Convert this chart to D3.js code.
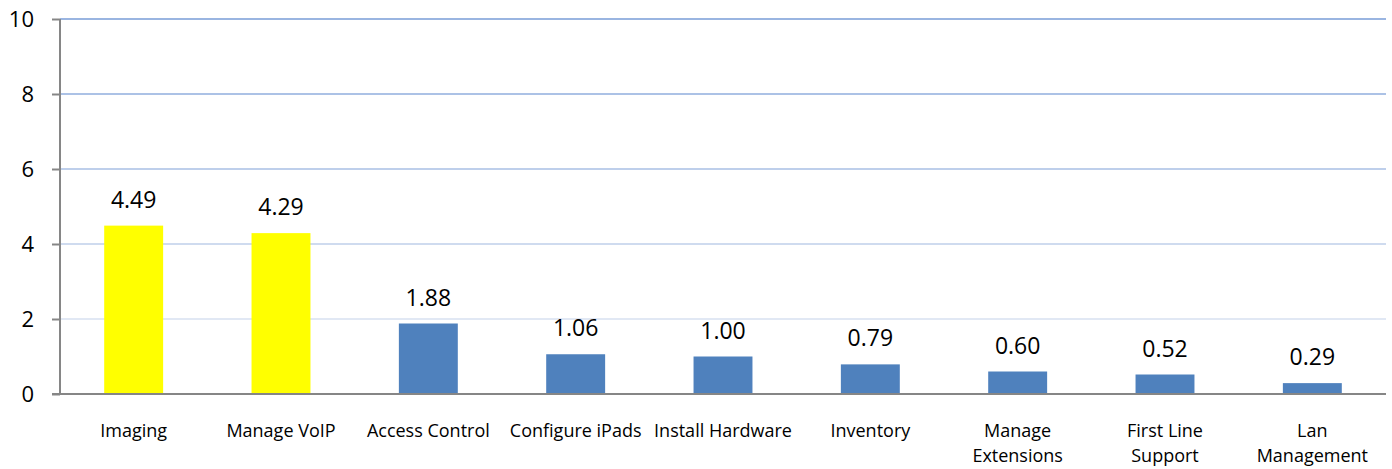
<!DOCTYPE html>
<html>
<head>
<meta charset="utf-8">
<script src="https://cdn.jsdelivr.net/npm/d3@7"></script>
<style>
  body { margin: 0; background: #fff; }
  text { font-family: "Open Sans", sans-serif; fill: #000; }
</style>
</head>
<body>
<script>
const width = 1392;
const height = 469;

const categories = ["Imaging", "Manage VoIP", "Access Control", "Configure iPads", "Install Hardware", "Inventory", "Manage Extensions", "First Line Support", "Lan Management"];
const labelLines = [["Imaging"], ["Manage VoIP"], ["Access Control"], ["Configure iPads"], ["Install Hardware"], ["Inventory"], ["Manage", "Extensions"], ["First Line", "Support"], ["Lan", "Management"]];
const values = [4.49, 4.29, 1.88, 1.06, 1.00, 0.79, 0.60, 0.52, 0.29];
const highlighted = ["Imaging", "Manage VoIP"];
const yTicks = [0, 2, 4, 6, 8, 10];

const margin = {left: 60, right: 6, top: 19, bottom: 75};

const svg = d3.select("body")
	.append("svg")
	.attr("width", width)
	.attr("height", height);

const x = d3.scaleBand()
	.domain(categories)
	.range([margin.left, width - margin.right])
	.paddingInner(0.6)
	.paddingOuter(0.3);

const y = d3.scaleLinear()
	.domain([0, 10])
	.range([height - margin.bottom, margin.top]);

// gridlines fade from blue at top to pale at bottom
const gridColor = d3.scaleLinear().domain([2, 10]).range(["#e1e8f4", "#9ab5e1"]);

svg.selectAll("line.grid")
	.data(yTicks.filter(t => t > 0))
	.enter()
	.append("line")
	.attr("class", "grid")
	.attr("x1", margin.left)
	.attr("x2", width - margin.right)
	.attr("y1", d => y(d))
	.attr("y2", d => y(d))
	.style("stroke", d => gridColor(d))
	.style("stroke-width", 2);

// bars
svg.selectAll("rect")
	.data(values)
	.enter()
	.append("rect")
	.attr("x", (d, i) => x(categories[i]))
	.attr("width", x.bandwidth())
	.attr("y", d => y(d))
	.attr("height", d => y(0) - y(d))
	.attr("fill", (d, i) => highlighted.includes(categories[i]) ? "#ffff00" : "#4f81bd");

// value labels
svg.selectAll("text.val")
	.data(values)
	.enter()
	.append("text")
	.attr("class", "val")
	.attr("x", (d, i) => x(categories[i]) + x.bandwidth() / 2)
	.attr("y", d => y(d) - 18)
	.attr("text-anchor", "middle")
	.style("font-size", "23px")
	.text(d => d.toFixed(2));

// y axis
const yAxis = svg.append("g")
	.attr("transform", `translate(${margin.left},0)`)
	.call(d3.axisLeft(y).tickValues(yTicks).tickSize(8).tickPadding(18));
yAxis.selectAll("path, line").style("stroke", "#868686").style("stroke-width", 2);
yAxis.select(".domain").attr("d", `M0,${y(0)}V${y(10)}`);
yAxis.selectAll("text").style("font-size", "22px").style("font-family", "Open Sans, sans-serif").attr("fill", "#000");

// x axis baseline
svg.append("line")
	.attr("x1", margin.left - 8)
	.attr("x2", width - margin.right)
	.attr("y1", y(0))
	.attr("y2", y(0))
	.style("stroke", "#868686")
	.style("stroke-width", 2);

// category labels
const cat = svg.selectAll("text.cat")
	.data(labelLines)
	.enter()
	.append("text")
	.attr("class", "cat")
	.attr("text-anchor", "middle")
	.style("font-size", "18px")
	.attr("transform", (d, i) => `translate(${x(categories[i]) + x.bandwidth() / 2},${y(0) + 43})`);

cat.selectAll("tspan")
	.data(d => d)
	.enter()
	.append("tspan")
	.attr("x", 0)
	.attr("dy", (d, i) => i === 0 ? 0 : 25)
	.text(d => d);
</script>
</body>
</html>
